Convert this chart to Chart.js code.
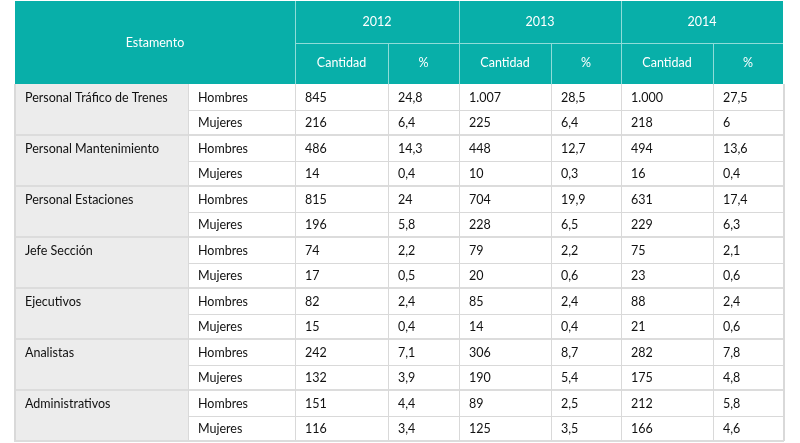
<!DOCTYPE html>
<html>
<head>
<meta charset="utf-8">
<script src="https://cdn.jsdelivr.net/npm/chart.js@4"></script>
<style>
  html, body { margin: 0; padding: 0; background: #fff; }
  #wrap { width: 800px; height: 443px; }
</style>
</head>
<body>
<div id="wrap"><canvas id="tabla"></canvas></div>
<script>
const estamentos = [
	"Personal Tráfico de Trenes",
	"Personal Mantenimiento",
	"Personal Estaciones",
	"Jefe Sección",
	"Ejecutivos",
	"Analistas",
	"Administrativos",
];
const sexos = ["Hombres", "Mujeres"];
const years = ["2012", "2013", "2014"];
const subHeaders = ["Cantidad", "%"];

const cantidad2012 = [845, 216, 486, 14, 815, 196, 74, 17, 82, 15, 242, 132, 151, 116];
const pct2012 = [24.8, 6.4, 14.3, 0.4, 24, 5.8, 2.2, 0.5, 2.4, 0.4, 7.1, 3.9, 4.4, 3.4];
const cantidad2013 = [1007, 225, 448, 10, 704, 228, 79, 20, 85, 14, 306, 190, 89, 125];
const pct2013 = [28.5, 6.4, 12.7, 0.3, 19.9, 6.5, 2.2, 0.6, 2.4, 0.4, 8.7, 5.4, 2.5, 3.5];
const cantidad2014 = [1000, 218, 494, 16, 631, 229, 75, 23, 88, 21, 282, 175, 212, 166];
const pct2014 = [27.5, 6, 13.6, 0.4, 17.4, 6.3, 2.1, 0.6, 2.4, 0.6, 7.8, 4.8, 5.8, 4.6];

// layout: column edges in table units
const colEdges = [0, 173, 280, 373, 444, 536, 606, 698, 768];
const nRows = estamentos.length * sexos.length;

const teal = "#08afa9";
const headLine = "#8fdcd8";
const gridLine = "#d9d9d9";
const font = "Lato, 'Open Sans', sans-serif";

function fmt(v) {
	let s = String(v).replace(".", ",");
	let parts = s.split(",");
	parts[0] = parts[0].replace(/\B(?=(\d{3})+(?!\d))/g, ".");
	return parts.join(",");
}

const valueCols = [cantidad2012, pct2012, cantidad2013, pct2013, cantidad2014, pct2014];

const datasets = [];
// estamento labels (one per group, on its first row)
datasets.push({
	texts: estamentos,
	data: estamentos.map((e, i) => ({ x: colEdges[0], y: i * 2 + 0.5 })),
});
// sexo labels
datasets.push({
	texts: estamentos.flatMap(() => sexos),
	data: Array.from({ length: nRows }, (_, i) => ({ x: colEdges[1], y: i + 0.5 })),
});
valueCols.forEach((col, c) => {
	datasets.push({
		texts: col.map(fmt),
		data: col.map((v, i) => ({ x: colEdges[c + 2], y: i + 0.5 })),
	});
});
datasets.forEach((d) => { d.pointRadius = 0; d.pointHoverRadius = 0; });

const tablePlugin = {
	id: "tabla",
	beforeDatasetsDraw(chart) {
		const ctx = chart.ctx;
		const x = chart.scales.x, y = chart.scales.y;
		const X = (v) => x.getPixelForValue(v);
		const Y = (v) => y.getPixelForValue(v);
		const left = X(0), right = X(768), top = Y(0), bottom = Y(nRows);
		ctx.save();
		// estamento column background
		ctx.fillStyle = "#ececec";
		ctx.fillRect(left, top, X(colEdges[1]) - left, bottom - top);
		// row lines
		for (let r = 1; r < nRows; r++) {
			const py = Math.round(Y(r));
			if (r % 2 === 0) {
				ctx.fillStyle = "#dcdcdc";
				ctx.fillRect(left, py - 1, right - left, 2);
			} else {
				ctx.fillStyle = gridLine;
				ctx.fillRect(X(colEdges[1]), py, right - X(colEdges[1]), 1);
			}
		}
		// vertical lines
		ctx.fillStyle = gridLine;
		colEdges.forEach((e, i) => {
			const px = Math.round(X(e));
			const w = (i === 0 || i === colEdges.length - 1) ? 2 : 1;
			ctx.fillRect(i === 0 ? px - 1 : px, top, w, bottom - top);
		});
		ctx.fillStyle = "#dcdcdc";
		ctx.fillRect(left - 1, Math.round(bottom) - 1, right - left + 2, 2);

		// header
		const hTop = 1, hMid = (hTop + top) / 2;
		ctx.fillStyle = teal;
		ctx.fillRect(left, hTop, right - left, top - hTop);
		ctx.fillStyle = headLine;
		ctx.fillRect(X(colEdges[2]), Math.round(hMid), right - X(colEdges[2]), 1);
		[2, 4, 6].forEach((i) => ctx.fillRect(Math.round(X(colEdges[i])), hTop, 1, top - hTop));
		[3, 5, 7].forEach((i) => ctx.fillRect(Math.round(X(colEdges[i])), Math.round(hMid), 1, top - hMid));
		ctx.fillStyle = "#fff";
		ctx.font = "12.5px " + font;
		ctx.textAlign = "center";
		ctx.textBaseline = "middle";
		ctx.fillText("Estamento", (left + X(colEdges[2])) / 2, (hTop + top) / 2);
		years.forEach((yr, k) => {
			const a = X(colEdges[2 + k * 2]), b = X(colEdges[4 + k * 2]);
			ctx.fillText(yr, (a + b) / 2, (hTop + hMid) / 2);
			subHeaders.forEach((s, j) => {
				const c0 = X(colEdges[2 + k * 2 + j]), c1 = X(colEdges[3 + k * 2 + j]);
				ctx.fillText(s, (c0 + c1) / 2, (hMid + top) / 2);
			});
		});
		ctx.restore();
	},
	afterDatasetsDraw(chart) {
		const ctx = chart.ctx;
		ctx.save();
		ctx.fillStyle = "#111";
		ctx.font = "12.5px " + font;
		ctx.textAlign = "left";
		ctx.textBaseline = "middle";
		chart.data.datasets.forEach((ds, di) => {
			chart.getDatasetMeta(di).data.forEach((pt, i) => {
				ctx.fillText(ds.texts[i], pt.x + 10, pt.y + 1);
			});
		});
		ctx.restore();
	},
};

new Chart(document.getElementById("tabla"), {
	type: "scatter",
	data: { datasets },
	options: {
		responsive: true,
		maintainAspectRatio: false,
		animation: false,
		events: [],
		layout: { padding: { left: 15, right: 17, top: 84, bottom: 2 } },
		plugins: { legend: { display: false }, tooltip: { enabled: false } },
		scales: {
			x: { type: "linear", min: 0, max: 768, display: false },
			y: { type: "linear", min: 0, max: nRows, reverse: true, display: false },
		},
	},
	plugins: [tablePlugin],
});
</script>
</body>
</html>
